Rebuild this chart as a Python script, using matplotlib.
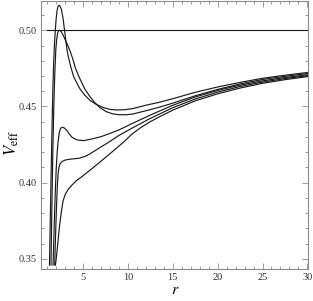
import matplotlib
matplotlib.use("Agg")
import matplotlib.pyplot as plt
from matplotlib.ticker import MultipleLocator, FixedLocator

# ---- data ----
r_A = [1.27, 1.35, 1.43, 1.52, 1.60, 1.67, 1.74, 1.82, 1.92, 2.02, 2.12, 2.22, 2.33,
       2.45, 2.60, 2.78, 2.95, 3.10, 3.30, 3.65, 4.00, 4.67, 5.20, 5.78, 6.50, 7.30,
       8.00, 8.80, 9.70, 10.6, 12.0, 13.6, 15.0, 17.5, 20.0, 22.5, 25.0, 27.5, 30.0]
V_A = [0.346, 0.372, 0.398, 0.426, 0.449, 0.466, 0.479, 0.490, 0.500, 0.508, 0.5130, 0.5157, 0.5164,
       0.5158, 0.5135, 0.5080, 0.5000, 0.4925, 0.4845, 0.4758, 0.4690, 0.4615, 0.4575, 0.4540, 0.4513, 0.4492,
       0.4481, 0.4477, 0.4479, 0.4487, 0.4508, 0.4529, 0.4551, 0.4593, 0.4628, 0.4658, 0.4685, 0.4705, 0.4723]

r_B = [1.44, 1.50, 1.57, 1.65, 1.74, 1.82, 1.90, 1.98, 2.08, 2.20, 2.30, 2.40,
       2.60, 2.85, 3.10, 3.35, 3.56, 3.85, 4.17, 4.60, 5.20, 5.80, 6.30, 6.90, 7.60,
       8.30, 9.00, 9.80, 10.6, 12.0, 13.6, 15.0, 17.5, 20.0, 22.5, 25.0, 27.5, 30.0]
V_B = [0.346, 0.370, 0.395, 0.422, 0.447, 0.464, 0.477, 0.4875, 0.4945, 0.4985, 0.4999, 0.5000,
       0.4990, 0.4960, 0.4928, 0.4895, 0.4865, 0.4815, 0.4750, 0.4690, 0.4615, 0.4563, 0.4527, 0.4492, 0.4466,
       0.4452, 0.4446, 0.4446, 0.4451, 0.4472, 0.4497, 0.4522, 0.4570, 0.4612, 0.4648, 0.4677, 0.4698, 0.4716]

r_C = [1.67, 1.75, 1.84, 1.93, 2.02, 2.12, 2.22, 2.37, 2.52, 2.74, 2.95, 3.22, 3.50,
       3.78, 4.33, 5.07, 6.00, 7.00, 7.85, 9.00, 10.4, 12.4, 15.0, 17.5, 20.0, 22.5,
       25.0, 27.5, 30.0]
V_C = [0.346, 0.362, 0.380, 0.396, 0.409, 0.419, 0.4265, 0.4331, 0.4358, 0.4364, 0.4358, 0.4342, 0.4318,
       0.4298, 0.4281, 0.4276, 0.4287, 0.4302, 0.4320, 0.4346, 0.4386, 0.4441, 0.4508, 0.4562, 0.4605, 0.4640,
       0.4668, 0.4690, 0.4708]

r_D = [1.85, 1.92, 2.00, 2.08, 2.16, 2.24, 2.34, 2.48, 2.70, 3.04, 3.40, 3.78, 4.20,
       4.60, 5.26, 5.80, 6.40, 7.10, 7.85, 9.00, 10.44, 12.4, 15.0, 17.5, 20.0, 22.5,
       25.0, 27.5, 30.0]
V_D = [0.346, 0.360, 0.375, 0.389, 0.3995, 0.4065, 0.4105, 0.4127, 0.4140, 0.4149, 0.4153, 0.4156, 0.4158,
       0.4161, 0.4173, 0.4190, 0.4212, 0.4238, 0.4265, 0.4310, 0.4357, 0.4419, 0.4492, 0.4549, 0.4594, 0.4631,
       0.4660, 0.4683, 0.4702]

r_E = [1.93, 2.04, 2.19, 2.37, 2.56, 2.78, 3.04, 3.40, 3.78, 4.30, 4.89, 5.80, 6.74,
       7.70, 8.60, 9.50, 10.44, 11.4, 12.4, 13.5, 15.0, 17.5, 20.0, 22.5, 25.0, 27.5, 30.0]
V_E = [0.346, 0.3509, 0.3597, 0.3706, 0.3794, 0.3880, 0.3925, 0.3960, 0.3985, 0.4015, 0.4040, 0.4083, 0.4128,
       0.4175, 0.4220, 0.4265, 0.4318, 0.4360, 0.4397, 0.4432, 0.4476, 0.4537, 0.4583, 0.4621, 0.4652, 0.4676, 0.4696]

ref_level = 0.5
ref_r = [1.0, 30.0]

x_major = [5, 10, 15, 20, 25, 30]
y_major = [0.35, 0.40, 0.45, 0.50]
y_major_labels = ["0.35", "0.40", "0.45", "0.50"]

# ---- figure ----
plt.rcParams['mathtext.fontset'] = 'stix'
W, H = 313, 301
fig = plt.figure(figsize=(W / 100, H / 100), dpi=100)
ax = fig.add_axes([41.3 / W, (H - 269.3) / H, (308.3 - 41.3) / W, (269.3 - 1.0) / H])

line_kw = dict(color='#1a1a1a', lw=0.85, solid_joinstyle='round')
for rr, vv in [(r_A, V_A), (r_B, V_B), (r_C, V_C), (r_D, V_D), (r_E, V_E)]:
    ax.plot(rr, vv, **line_kw)
ax.plot(ref_r, [ref_level, ref_level], color='#1a1a1a', lw=0.8)

ax.set_xlim(0.36, 30.1)
ax.set_ylim(0.3432, 0.5192)

frame_col = '#8c8c8c'
for s in ax.spines.values():
    s.set_color(frame_col)
    s.set_linewidth(0.8)

ax.xaxis.set_major_locator(FixedLocator(x_major))
ax.xaxis.set_minor_locator(MultipleLocator(1))
ax.yaxis.set_major_locator(FixedLocator(y_major))
ax.yaxis.set_minor_locator(MultipleLocator(0.01))
ax.set_yticklabels(y_major_labels)
ax.tick_params(which='both', direction='in', top=True, right=True, color=frame_col, width=0.6)
ax.tick_params(which='major', length=4.5, labelsize=7.5, labelcolor='#333333', pad=3)
ax.tick_params(which='minor', length=2.5)
for lab in ax.get_xticklabels() + ax.get_yticklabels():
    lab.set_family('Liberation Serif')

fig.text(175.5 / W, 1 - 289.5 / H, r'$r$', fontsize=11.5, ha='center', va='center')
fig.text(12.0 / W, 1 - 143.0 / H, r'$V_{\mathrm{eff}}$', fontsize=12, ha='center', va='center', rotation=90)

fig.savefig('out.png', dpi=100)
